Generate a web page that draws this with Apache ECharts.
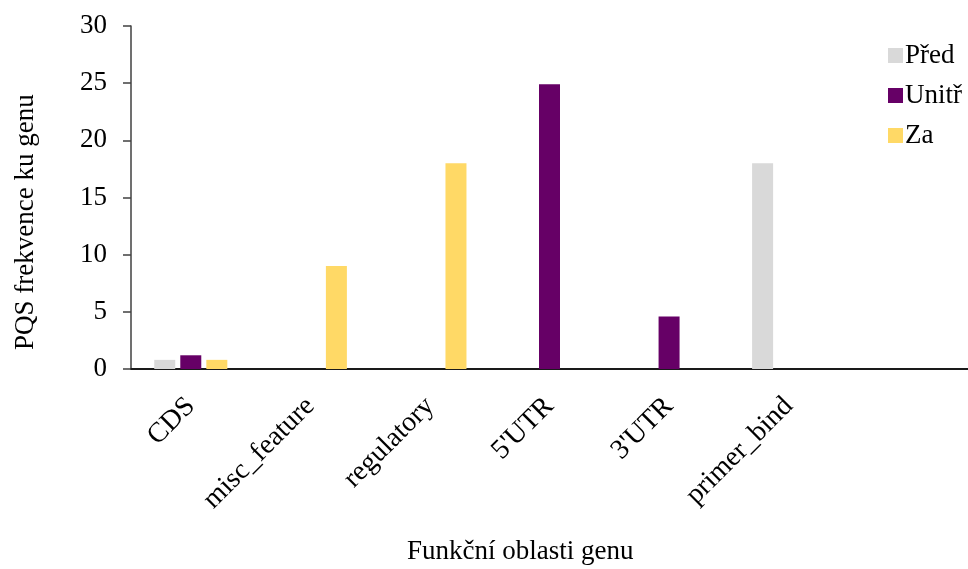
<!DOCTYPE html>
<html><head><meta charset="utf-8">
<script src="https://cdn.jsdelivr.net/npm/echarts@6/dist/echarts.min.js"></script>
<style>html,body{margin:0;padding:0;background:#fff}#c{width:968px;height:569px}</style>
</head><body><div id="c"></div>
<script>
const categories = ["CDS", "misc_feature", "regulatory", "5'UTR", "3'UTR", "primer_bind", ""];
const pred  = [0.8, null, null, null, null, 18, null];
const unitr = [1.2, null, null, 24.9, 4.6, null, null];
const za    = [0.8, 9, 18, null, null, null, null];
const yTicks = [0, 5, 10, 15, 20, 25, 30];

const font = "'Liberation Serif', 'Times New Roman', serif";
const chart = echarts.init(document.getElementById('c'));
chart.setOption({
  animation: false,
  grid: {left: 131, right: 0, top: 26, bottom: 200},
  legend: {
    orient: 'vertical', left: 883, top: 37, itemGap: 13,
    itemWidth: 15, itemHeight: 15, icon: 'rect',
    textStyle: {fontFamily: font, fontSize: 27, color: '#000', padding: [0,0,0,-3]},
    data: ['Před', 'Unitř', 'Za']
  },
  xAxis: {
    type: 'category', data: categories,
    axisLine: {lineStyle: {color: '#1a1a1a', width: 2}},
    axisTick: {show: false},
    axisLabel: {rotate: 45, interval: 0, margin: 33, fontFamily: font, fontSize: 28, color: '#000'}
  },
  yAxis: {
    type: 'value', min: yTicks[0], max: yTicks[yTicks.length-1], interval: 5,
    splitLine: {show: false},
    axisLine: {show: true, lineStyle: {color: '#404040', width: 1.5}},
    axisTick: {show: true, length: 8, lineStyle: {color: '#404040', width: 1.5}},
    axisLabel: {margin: 24, fontFamily: font, fontSize: 27, color: '#000'}
  },
  graphic: [
    {type: 'text', left: 407, top: 538, style: {text: 'Funkční oblasti genu', font: "27px 'Liberation Serif'", fill: '#000'}},
    {type: 'text', x: 12, y: 350, rotation: Math.PI/2, style: {text: 'PQS frekvence ku genu', font: "27px 'Liberation Serif'", fill: '#000'}}
  ],
  series: [
    {name: 'Před', type: 'bar', data: pred, itemStyle: {color: '#D9D9D9'}, barWidth: 21, barGap: '24%'},
    {name: 'Unitř', type: 'bar', data: unitr, itemStyle: {color: '#660066'}, barWidth: 21, barGap: '24%'},
    {name: 'Za', type: 'bar', data: za, itemStyle: {color: '#FFD966'}, barWidth: 21, barGap: '24%'}
  ]
});
</script></body></html>
